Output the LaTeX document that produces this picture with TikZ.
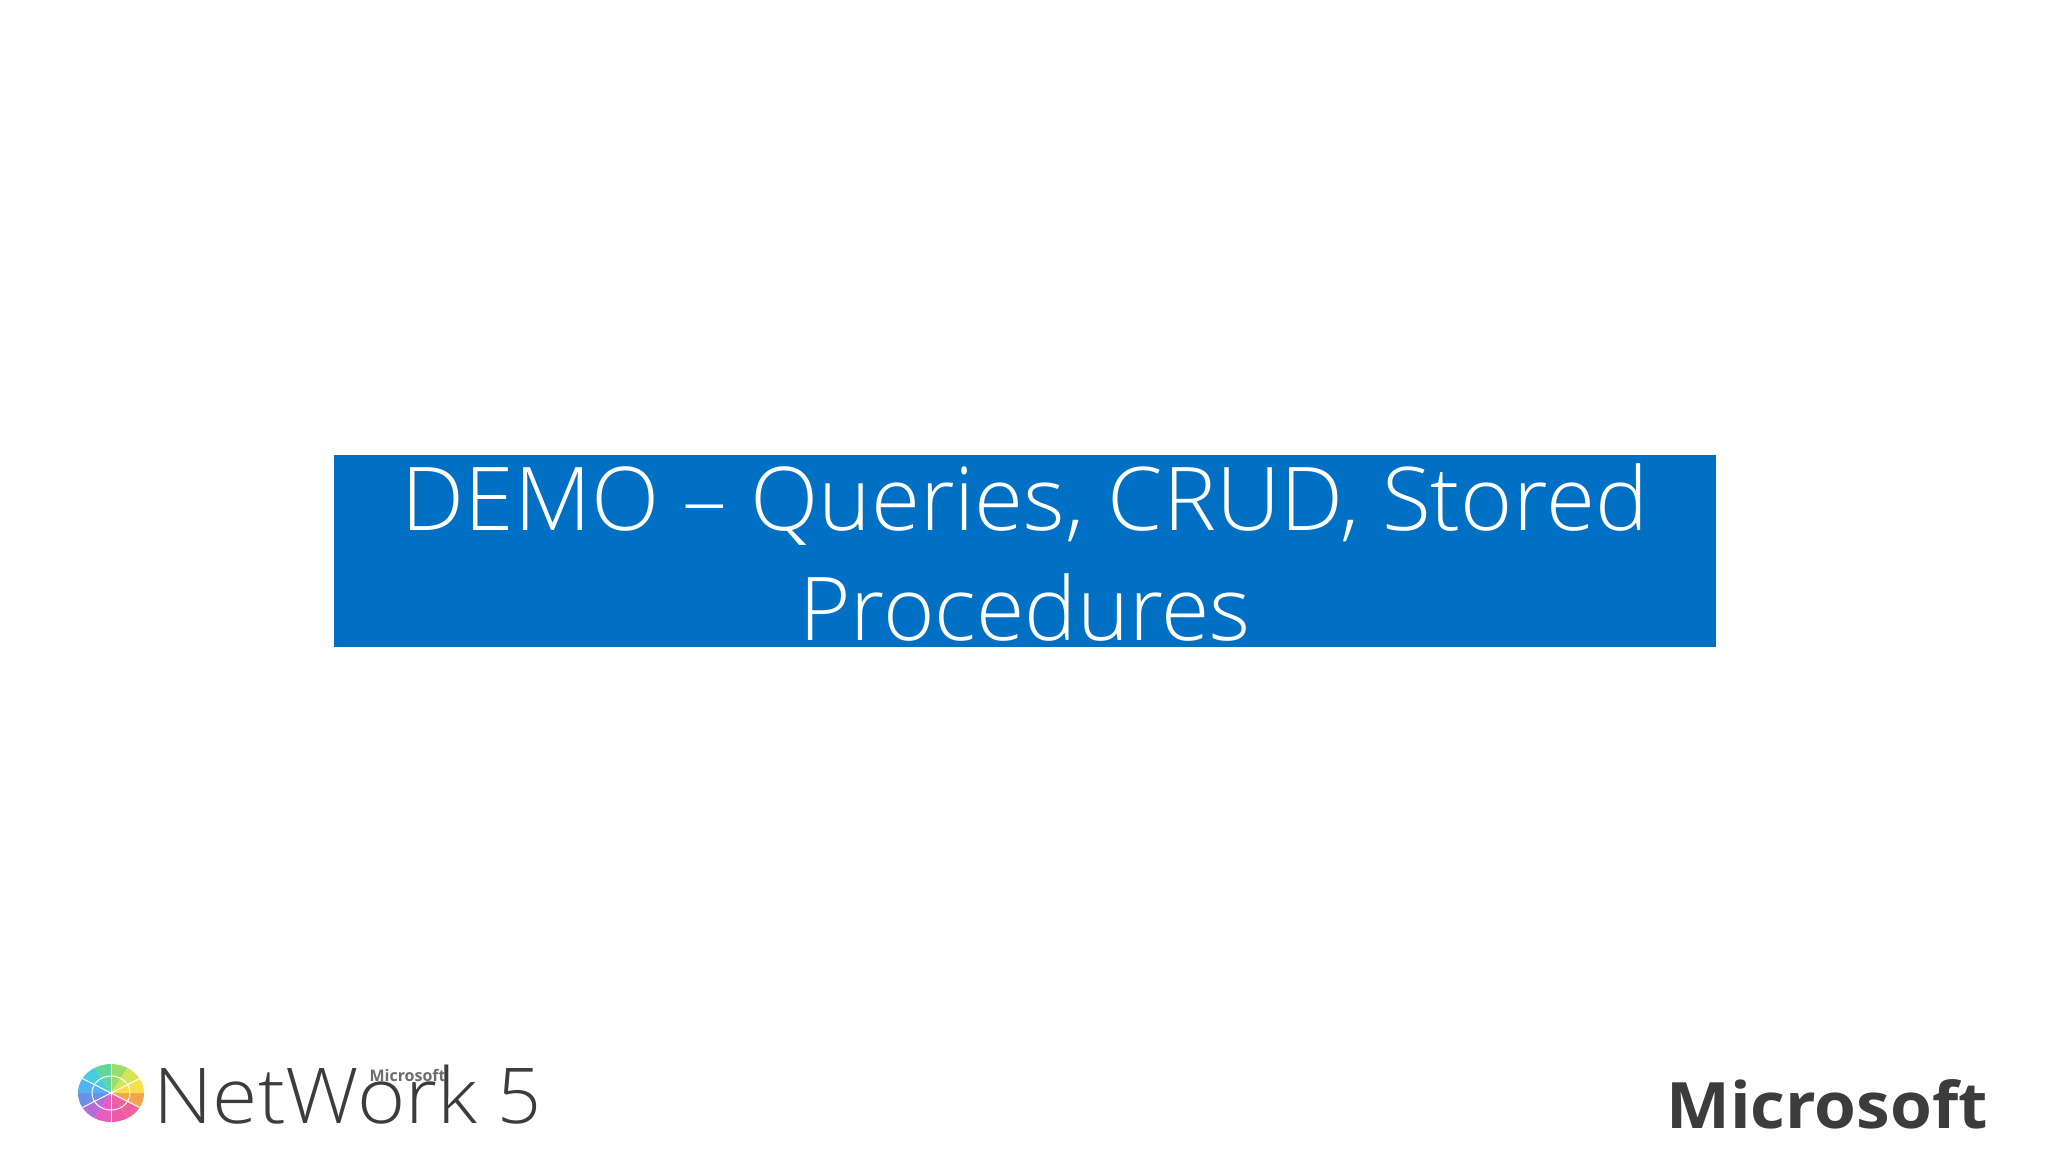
\documentclass[tikz,border=0pt]{standalone}
\usepackage{fontspec}
\setmainfont{Open Sans}
\newfontfamily\lightfont{Open Sans Light}
\definecolor{demoblue}{HTML}{0070C4}
\definecolor{logogray}{HTML}{3C3C3C}
\tikzset{
	titlebox/.style={fill=demoblue,text=white,inner sep=0pt,minimum width=691pt,minimum height=96pt},
	titletext/.style={text=white,inner sep=0pt,align=center,font=\lightfont\fontsize{44}{55}\selectfont},
	logotext/.style={text=logogray,inner sep=0pt,anchor=base west}
}
\begin{document}
\begin{tikzpicture}[x=0.5pt,y=-0.5pt]
			\useasboundingbox (0,0) rectangle (2048,1152);
			\fill[white] (0,0) rectangle (2048,1152);
			\node[titlebox](banner) at (1025,551) {};
			\node[titletext](title) at (1025,552) {\scalebox{1.014}[1]{DEMO – Queries, CRUD, Stored}\\Procedures};
			% globe
			\foreach \a/\c in {0/F7A24F,30/F0609A,60/EC5BA8,90/E85CC0,120/B56BD8,150/6E8FE8,180/4FB4F0,210/45CDE0,240/62D69A,270/9BDC6A,300/D6E45A,330/F6E04A}
			{
				\definecolor{wedgecolor}{HTML}{\c}
				\fill[wedgecolor] (111,1093) -- ++(\a:33 and 29) arc[start angle=\a,end angle=\a+30,x radius=33,y radius=29] -- cycle;
			}
			\foreach \a in {30,90,...,330}
				\draw[white,line width=0.5pt] (111,1093) -- ++(\a:33 and 29);
			\draw[white,line width=0.5pt] (111,1093) ellipse[x radius=19,y radius=17];
			\node[logotext,font=\lightfont\fontsize{38.5}{38.5}\selectfont](network) at (153,1123) {\scalebox{1.07}[1]{NetWork}};
			\node[logotext,font=\lightfont\fontsize{38.5}{38.5}\selectfont](five) at (497,1123) {5};
			\node[logotext,text=logogray!75,font=\bfseries\fontsize{8}{8}\selectfont,anchor=base east](small) at (446,1081) {Microsoft};
			\node[logotext,font=\bfseries\fontsize{32}{32}\selectfont](brand) at (1666,1128) {\scalebox{1.057}[1]{Microsoft}};
\end{tikzpicture}
\end{document}
